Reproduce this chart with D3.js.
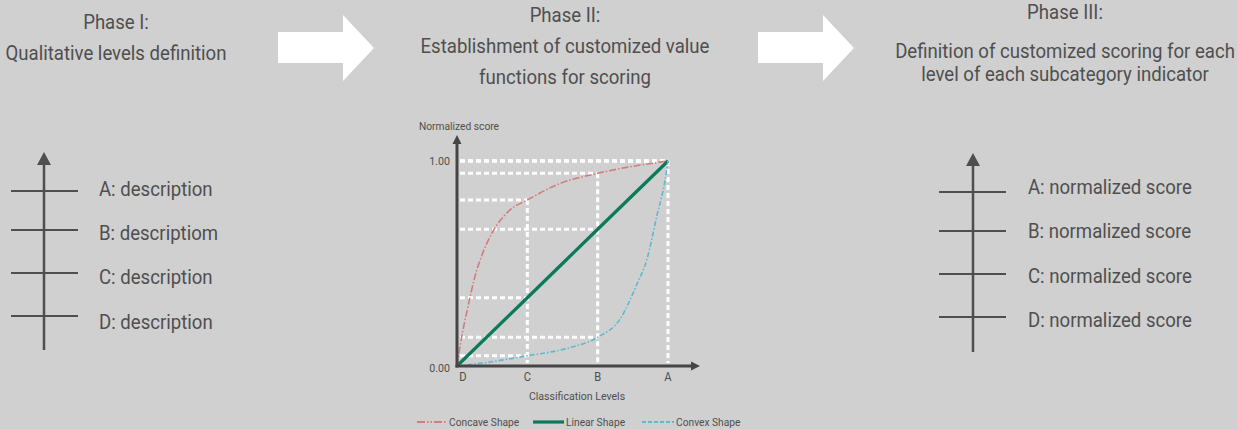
<!DOCTYPE html>
<html>
<head>
<meta charset="utf-8">
<script src="https://cdn.jsdelivr.net/npm/d3@7"></script>
<style>
  html, body { margin: 0; padding: 0; background: #d0d0d0; }
  svg { display: block; }
  text { font-family: Roboto, "Noto Sans", sans-serif; fill: #4f4f4f; }
</style>
</head>
<body>
<svg id="chart" width="1237" height="429"></svg>
<script>
// ---------- data ----------
const phaseTitles = [
  ["Phase I:", "Qualitative levels definition"],
  ["Phase II:", "Establishment of customized value", "functions for scoring"],
  ["Phase III:", "Definition of customized scoring for each", "level of each subcategory indicator"]
];
const levels = ["D", "C", "B", "A"];
const leftLabels = ["A: description", "B: descriptiom", "C: description", "D: description"];
const rightLabels = ["A: normalized score", "B: normalized score", "C: normalized score", "D: normalized score"];
const yTickLabels = ["0.00", "1.00"];
const yTickValues = [0, 1];
const seriesNames = ["Concave Shape", "Linear Shape", "Convex Shape"];
// level position (0 = D ... 3 = A) and normalized score
const concaveX = [0, 0.06, 0.15, 0.25, 0.37, 0.5, 0.75, 1, 1.46, 2, 3];
const concaveY = [0, 0.13, 0.28, 0.43, 0.555, 0.65, 0.76, 0.81, 0.89, 0.94, 1];
const linearX = [0, 1, 2, 3];
const linearY = [0, 0.333, 0.667, 1];
const convexX = [0, 0.37, 1, 1.61, 2, 2.32, 2.56, 2.70, 2.84, 2.97, 3];
const convexY = [0, 0.015, 0.05, 0.09, 0.14, 0.23, 0.40, 0.52, 0.73, 0.93, 1];
// score at each level (D,C,B,A) used for the guide lines
const concaveAtLevel = [0, 0.81, 0.94, 1];
const linearAtLevel = [0, 0.333, 0.667, 1];
const convexAtLevel = [0, 0.05, 0.14, 1];

// ---------- setup ----------
const svg = d3.select("#chart");
const ink = "#4f4f4f";
function label(g, x, y, str, size, anchor, sx) {
  return g.append("text")
    .attr("transform", `translate(${x},${y}) scale(${sx || 0.93},1)`)
    .attr("text-anchor", anchor || "middle")
    .attr("dominant-baseline", "central")
    .style("font-size", size + "px")
    .text(str);
}

// ---------- phase titles ----------
const titleX = [116, 565, 1065];
const titleY = [[22, 53], [15, 46, 77], [12, 51, 74]];
phaseTitles.forEach((lines, i) => {
  lines.forEach((ln, j) => label(svg, titleX[i], titleY[i][j], ln, 20));
});

// ---------- block arrows ----------
const arrowX = [278, 758];
arrowX.forEach(x0 => {
  svg.append("path")
    .attr("d", `M${x0},32 L${x0 + 65},32 L${x0 + 65},15 L${x0 + 96},48 L${x0 + 65},81 L${x0 + 65},63 L${x0},63 Z`)
    .attr("fill", "#ffffff");
});

// ---------- level ladders ----------
function ladder(axisX, top, bottom, tickX0, tickX1, tickYs, labelX, labelYs, labels) {
  const g = svg.append("g");
  g.append("line").attr("x1", axisX).attr("x2", axisX).attr("y1", top + 10).attr("y2", bottom)
    .attr("stroke", ink).attr("stroke-width", 2.5);
  g.append("path").attr("d", `M${axisX},${top} L${axisX + 7},${top + 13} L${axisX - 7},${top + 13} Z`).attr("fill", ink);
  tickYs.forEach(y => g.append("line").attr("x1", tickX0).attr("x2", tickX1).attr("y1", y).attr("y2", y)
    .attr("stroke", ink).attr("stroke-width", 2));
  labels.forEach((t, i) => label(g, labelX, labelYs[i], t, 20, "start"));
}
ladder(44, 152, 350, 11, 78, [191, 230, 273, 316], 99, [189, 233, 277, 322], leftLabels);
ladder(973, 153, 352, 939, 1006, [192, 231, 274, 317], 1028, [187, 231, 276, 320], rightLabels);

// ---------- value-function chart ----------
const x = d3.scaleLinear().domain([0, 3]).range([457, 668]);
const y = d3.scaleLinear().domain([0, 1]).range([366, 161]);
const chart = svg.append("g");

// guide lines
const guide = chart.append("g").attr("stroke", "#ffffff").attr("stroke-width", 3).attr("stroke-dasharray", "5,3").attr("fill", "none");
[concaveAtLevel, linearAtLevel, convexAtLevel].forEach(vals => {
  vals.forEach((v, i) => {
    if (i === 0) return;
    guide.append("line").attr("x1", x(0) + 3).attr("x2", x(i)).attr("y1", y(v)).attr("y2", y(v));
  });
});
levels.forEach((l, i) => {
  if (i === 0) return;
  const top = Math.max(concaveAtLevel[i], linearAtLevel[i], convexAtLevel[i]);
  guide.append("line").attr("x1", x(i)).attr("x2", x(i)).attr("y1", y(top)).attr("y2", y(0) - 3);
});

// curves
const lineGen = d3.line().x(d => x(d[0])).y(d => y(d[1])).curve(d3.curveMonotoneX);
const styles = [
  { color: "#d27c7c", width: 1.6, dash: "7,2,1.5,2" },
  { color: "#0b7a5a", width: 3.2, dash: null },
  { color: "#5bbacd", width: 1.6, dash: "5,2,1.5,2" }
];
const seriesData = [d3.zip(concaveX, concaveY), d3.zip(linearX, linearY), d3.zip(convexX, convexY)];
seriesData.forEach((d, i) => {
  chart.append("path").attr("d", lineGen(d)).attr("fill", "none")
    .attr("stroke", styles[i].color).attr("stroke-width", styles[i].width)
    .attr("stroke-dasharray", styles[i].dash);
});

// axes
const axisColor = "#454545";
chart.append("line").attr("x1", x(0)).attr("x2", x(0)).attr("y1", y(0) + 1.5).attr("y2", 143)
  .attr("stroke", axisColor).attr("stroke-width", 3);
chart.append("path").attr("d", `M${x(0)},135 L${x(0) + 4.5},144 L${x(0) - 4.5},144 Z`).attr("fill", axisColor);
chart.append("line").attr("x1", x(0) - 1.5).attr("x2", 692).attr("y1", y(0)).attr("y2", y(0))
  .attr("stroke", axisColor).attr("stroke-width", 3);
chart.append("path").attr("d", `M700,${y(0)} L691,${y(0) - 4.5} L691,${y(0) + 4.5} Z`).attr("fill", axisColor);

// tick labels
yTickValues.forEach((v, i) => label(chart, 450, y(v) + (v === 0 ? 2 : 0), yTickLabels[i], 11.5, "end", 0.93));
levels.forEach((l, i) => label(chart, x(i) + (i === 0 ? 6 : 0), 377, l, 12, "middle", 0.93));
label(chart, 459, 126, "Normalized score", 11, "middle", 0.93);
label(chart, 577, 396, "Classification Levels", 11.5, "middle", 0.92);

// legend
const legX = [417, 533, 642];
const legW = [30, 31, 32];
seriesNames.forEach((n, i) => {
  chart.append("line").attr("x1", legX[i]).attr("x2", legX[i] + legW[i]).attr("y1", 422).attr("y2", 422)
    .attr("stroke", styles[i].color).attr("stroke-width", i === 1 ? 3.2 : 1.8)
    .attr("stroke-dasharray", i === 0 ? "8,2,1.5,2,1.5,2" : (i === 2 ? "4,2" : null));
  label(chart, legX[i] + legW[i] + 2, 422, n, 11.5, "start", 0.89);
});
</script>
</body>
</html>
